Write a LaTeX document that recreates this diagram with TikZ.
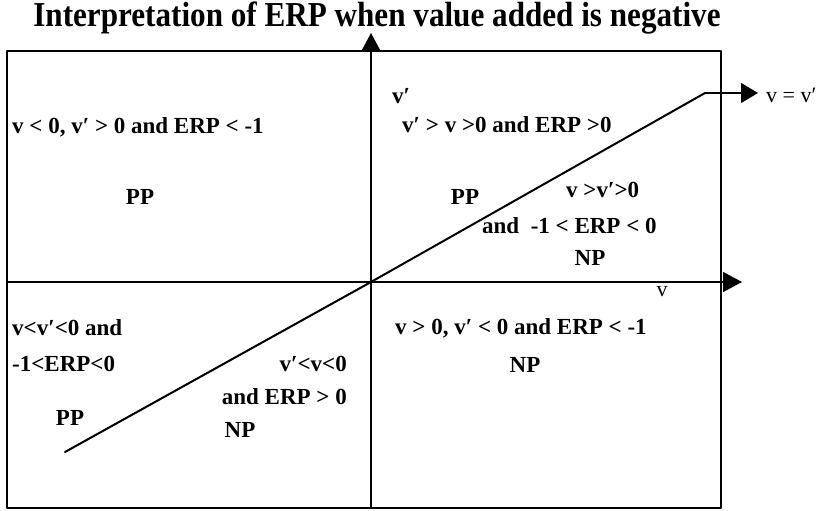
\documentclass[tikz,border=0pt]{standalone}
\usepackage{fontspec}
\setmainfont{Liberation Serif}
\newfontfamily\titlefont[FakeStretch=0.89]{Liberation Serif}
\usetikzlibrary{arrows.meta}

\begin{document}
\begin{tikzpicture}[x=1pt,y=-1pt,line cap=round,line join=round,
  quad/.style={font=\bfseries\fontsize{23}{27}\selectfont,inner sep=0pt},
  axlbl/.style={font=\fontsize{22}{26}\selectfont,inner sep=0pt},
  tip/.style={-{Triangle[length=19pt,width=20pt]}}]
  \useasboundingbox (0,0) rectangle (825,511);
  \coordinate (TL) at (7,51);
  \coordinate (BR) at (721,508);
  \coordinate (O) at (371,282);
  \coordinate (L) at (7,282);
  \coordinate (R) at (742,282);
  \coordinate (B) at (371,508);
  \coordinate (T) at (371,33);
  \coordinate (S) at (65,452);
  \coordinate (K) at (705,93);
  \coordinate (E) at (758,93);
  \draw[line width=1.2pt] (TL) rectangle (BR);
  \draw[line width=1.4pt,tip] (L) -- (R);
  \draw[line width=1.4pt,tip] (B) -- (T);
  \draw[line width=2pt] (S) -- (O) -- (K);
  \draw[line width=1.4pt,-{Triangle[length=17pt,width=20pt]}] (K) -- (E);
  \node[font=\titlefont\bfseries\fontsize{35}{40}\selectfont,inner sep=0pt] (title) at (377,18) {Interpretation of ERP when value added is negative};
  \node[axlbl,anchor=west] (vv) at (766,95) {v = v′};
  \node[axlbl] (vx) at (662,292) {v};
  \node[quad] (vy) at (401,96) {v′};
  % upper left
  \node[quad,anchor=west] (ula) at (12,127) {v < 0, v′ > 0 and ERP < -1};
  \node[quad] (ulb) at (140,197) {PP};
  % upper right
  \node[quad,anchor=west] (ura) at (402,125) {v′ > v >0 and ERP >0};
  \node[quad] (urb) at (465,197) {PP};
  \node[quad,anchor=west] (urc) at (566,190) {v >v′>0};
  \node[quad,anchor=west] (urd) at (482,226) {and ~-1 < ERP < 0};
  \node[quad] (ure) at (590,258) {NP};
  % lower left
  \node[quad,anchor=west] (lla) at (12,328) {v<v′<0 and};
  \node[quad,anchor=west] (llb) at (12,364) {-1<ERP<0};
  \node[quad] (llc) at (70,418) {PP};
  \node[quad,anchor=east] (lld) at (347,364) {v′<v<0};
  \node[quad,anchor=east] (lle) at (347,397) {and ERP > 0};
  \node[quad] (llf) at (240,430) {NP};
  % lower right
  \node[quad,anchor=west] (lra) at (395,328) {v > 0, v′ < 0 and ERP < -1};
  \node[quad] (lrb) at (525,365) {NP};
\end{tikzpicture}
\end{document}
